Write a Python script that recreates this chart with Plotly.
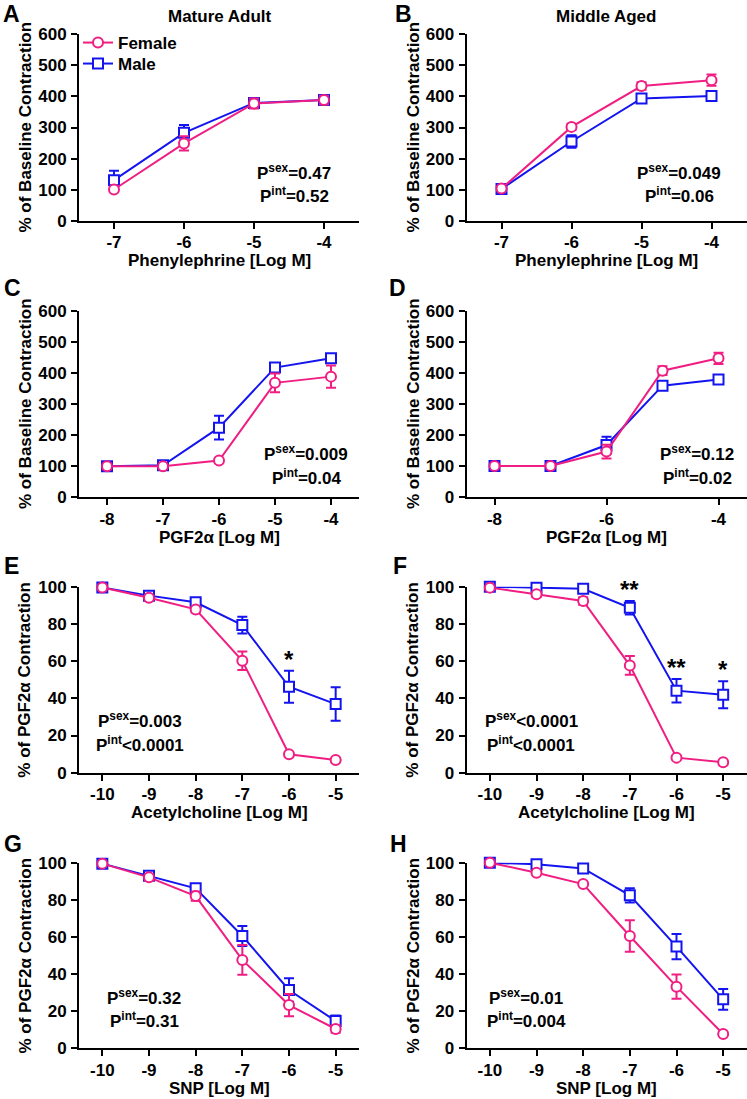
import plotly.graph_objects as go

# ---------------- data ----------------
A_dose = [-7, -6, -5, -4]
A_female = [101, 249, 377, 388]
A_female_err = [5, 23, 16, 14]
A_male = [131, 283, 379, 388]
A_male_err = [30, 25, 10, 12]

B_dose = [-7, -6, -5, -4]
B_female = [104, 302, 433, 452]
B_female_err = [4, 10, 12, 18]
B_male = [103, 255, 393, 401]
B_male_err = [4, 20, 10, 15]

C_dose = [-8, -7, -6, -5, -4]
C_female = [100, 100, 118, 368, 388]
C_female_err = [3, 3, 5, 30, 36]
C_male = [100, 103, 224, 417, 447]
C_male_err = [3, 3, 38, 8, 10]

D_dose = [-8, -7, -6, -5, -4]
D_female = [101, 101, 147, 407, 447]
D_female_err = [3, 3, 22, 14, 18]
D_male = [101, 101, 168, 359, 379]
D_male_err = [3, 3, 27, 8, 8]

E_dose = [-10, -9, -8, -7, -6, -5]
E_female = [99.6, 94.1, 87.8, 60.2, 9.9, 6.8]
E_female_err = [0.5, 1, 1.5, 5, 1, 1]
E_male = [99.6, 95.2, 91.6, 79.4, 46.2, 36.9]
E_male_err = [0.5, 1, 1.5, 4.5, 8.6, 9]

F_dose = [-10, -9, -8, -7, -6, -5]
F_female = [99.5, 95.9, 92.3, 57.7, 8.1, 5.6]
F_female_err = [0.5, 1.5, 2, 5, 1, 1]
F_male = [100, 99.5, 98.9, 88.7, 44.1, 41.9]
F_male_err = [0.3, 0.5, 1, 3.6, 6.3, 7.2]

G_dose = [-10, -9, -8, -7, -6, -5]
G_female = [99.5, 92.1, 82.0, 47.6, 23.3, 10.4]
G_female_err = [0.5, 1.5, 2.5, 8, 6, 2]
G_male = [99.5, 93.0, 86.2, 60.5, 31.4, 14.7]
G_male_err = [0.5, 1, 1.5, 5.4, 6.3, 3]

H_dose = [-10, -9, -8, -7, -6, -5]
H_female = [100, 94.6, 88.5, 60.5, 33.2, 7.7]
H_female_err = [0.3, 1, 1, 8.5, 6.5, 1]
H_male = [100, 99.1, 96.9, 82.4, 54.8, 26.4]
H_male_err = [0.3, 1, 1, 3.8, 6.8, 5.6]

panel_letters = ["A", "B", "C", "D", "E", "F", "G", "H"]
column_titles = ["Mature Adult", "Middle Aged"]
x_titles = ["Phenylephrine [Log M]", "Phenylephrine [Log M]",
            "PGF2α [Log M]", "PGF2α [Log M]",
            "Acetylcholine [Log M]", "Acetylcholine [Log M]",
            "SNP [Log M]", "SNP [Log M]"]
y_titles = ["% of Baseline Contraction"] * 4 + ["% of PGF2α Contraction"] * 4
p_sex = ["=0.47", "=0.049", "=0.009", "=0.12", "=0.003", "<0.0001", "=0.32", "=0.01"]
p_int = ["=0.52", "=0.06", "=0.04", "=0.02", "<0.0001", "<0.0001", "=0.31", "=0.004"]
x_tickvals = [[-7, -6, -5, -4], [-7, -6, -5, -4],
              [-8, -7, -6, -5, -4], [-8, -6, -4],
              [-10, -9, -8, -7, -6, -5], [-10, -9, -8, -7, -6, -5],
              [-10, -9, -8, -7, -6, -5], [-10, -9, -8, -7, -6, -5]]
# significance stars: (panel index, dose, label)
stars = [(4, -6, "*"), (5, -7, "**"), (5, -6, "**"), (5, -5, "*")]

panels = [
    (A_dose, A_female, A_female_err, A_male, A_male_err),
    (B_dose, B_female, B_female_err, B_male, B_male_err),
    (C_dose, C_female, C_female_err, C_male, C_male_err),
    (D_dose, D_female, D_female_err, D_male, D_male_err),
    (E_dose, E_female, E_female_err, E_male, E_male_err),
    (F_dose, F_female, F_female_err, F_male, F_male_err),
    (G_dose, G_female, G_female_err, G_male, G_male_err),
    (H_dose, H_female, H_female_err, H_male, H_male_err),
]

# ---------------- style / layout ----------------
W, H = 747, 1099
FEMALE = "#F01E82"
MALE = "#1414F0"
FONT = "Liberation Sans, Arial, sans-serif"
FS = 17


def px(x):
    return x / W


def py(y):
    return 1 - y / H


col_px = [(79, 359), (466.5, 746.5)]
row_px = [(34, 221), (310.7, 497.3), (586.7, 772.7), (862.7, 1048.3)]
x_ranges = [[-7.5, -3.5]] * 2 + [[-8.5, -3.5]] * 2 + [[-10.5, -4.5]] * 4
y_ranges = [[0, 600]] * 4 + [[0, 100]] * 4
y_dticks = [100] * 4 + [20] * 4
# P-text centers (px)
p_pos = [(294, 172, 195), (679, 172, 195), (306, 452.7, 476.7), (697, 453.3, 477.3),
         (140, 720, 744.3), (531, 720, 744.3), (144, 996.7, 1020), (526, 996.7, 1020)]
letter_pos = [(2, 10), (394, 10), (2, 288), (387, 288), (2, 566), (391, 566), (2, 844), (388, 844)]

fig = go.Figure()
layout = dict(width=W, height=H, margin=dict(l=0, r=0, t=0, b=0, pad=0, autoexpand=False),
              paper_bgcolor="white", plot_bgcolor="white",
              font=dict(family=FONT, size=FS, color="black"),
              showlegend=True)
annotations = []

for i, (dose, fem, fem_e, mal, mal_e) in enumerate(panels):
    r, c = divmod(i, 2)
    xa = "x" if i == 0 else f"x{i+1}"
    ya = "y" if i == 0 else f"y{i+1}"
    xkey = "xaxis" if i == 0 else f"xaxis{i+1}"
    ykey = "yaxis" if i == 0 else f"yaxis{i+1}"
    x0, x1 = col_px[c]
    y0, y1 = row_px[r]
    layout[xkey] = dict(domain=[px(x0), px(x1)], anchor=ya, range=x_ranges[i],
                        tickvals=x_tickvals[i], ticktext=[str(v) for v in x_tickvals[i]],
                        showline=True, linewidth=2, linecolor="black",
                        ticks="outside", ticklen=6, tickwidth=2, tickcolor="black",
                        showgrid=False, zeroline=False, ticklabelstandoff=-1,
                        automargin=False,
                        tickfont=dict(family=FONT, size=FS, weight="bold"))
    layout[ykey] = dict(domain=[py(y1), py(y0)], anchor=xa, range=y_ranges[i],
                        dtick=y_dticks[i], tick0=0,
                        showline=True, linewidth=2, linecolor="black",
                        ticks="outside", ticklen=6, tickwidth=2, tickcolor="black",
                        showgrid=False, zeroline=False, ticklabelstandoff=1,
                        automargin=False,
                        tickfont=dict(family=FONT, size=FS, weight="bold"))
    for name, vals, errs, col, sym, leg in [
        ("Male", mal, mal_e, MALE, "square", "legend2"),
        ("Female", fem, fem_e, FEMALE, "circle", "legend"),
    ]:
        fig.add_trace(go.Scatter(
            x=dose, y=vals, xaxis=xa, yaxis=ya, name=name,
            mode="lines+markers", legend=leg, showlegend=(i == 0),
            line=dict(color=col, width=2),
            marker=dict(symbol=sym, size=10, color="white",
                        line=dict(color=col, width=2)),
            error_y=dict(type="data", array=errs, visible=True, color=col,
                         thickness=2, width=5),
            cliponaxis=False,
        ))
    # axis titles
    annotations.append(dict(xref="paper", yref="paper", x=px((x0 + x1) / 2), y=py(y1 + 40),
                            text=x_titles[i], showarrow=False, xanchor="center", yanchor="middle",
                            font=dict(family=FONT, size=FS, weight="bold")))
    annotations.append(dict(xref="paper", yref="paper", x=px(25 if c == 0 else 413),
                            y=py((y0 + y1) / 2), text=y_titles[i], textangle=-90,
                            showarrow=False, xanchor="center", yanchor="middle",
                            font=dict(family=FONT, size=FS, weight="bold")))
    # P values
    pxc, l1, l2 = p_pos[i]
    annotations.append(dict(xref="paper", yref="paper", x=px(pxc), y=py(l1),
                            text="P<sup>sex</sup>" + p_sex[i], showarrow=False,
                            xanchor="center", yanchor="middle",
                            font=dict(family=FONT, size=FS, weight="bold")))
    annotations.append(dict(xref="paper", yref="paper", x=px(pxc), y=py(l2),
                            text="P<sup>int</sup>" + p_int[i], showarrow=False,
                            xanchor="center", yanchor="middle",
                            font=dict(family=FONT, size=FS, weight="bold")))
    # panel letter
    lx, ly = letter_pos[i]
    if r == 0:
        letter = dict(y=1, yanchor="top", borderpad=0)
    else:
        letter = dict(y=py(ly), yanchor="middle")
    annotations.append(dict(xref="paper", yref="paper", x=px(lx),
                            text=panel_letters[i], showarrow=False, xanchor="left",
                            font=dict(family=FONT, size=23, weight="bold"), **letter))

# stars above male error bars
for (pi, d, lab) in stars:
    dose, fem, fem_e, mal, mal_e = panels[pi]
    k = dose.index(d)
    xa = f"x{pi+1}"
    ya = f"y{pi+1}"
    annotations.append(dict(xref=xa, yref=ya, x=d, y=mal[k] + mal_e[k],
                            text=lab, showarrow=False, xanchor="center", yanchor="bottom",
                            yshift=-4,
                            font=dict(family=FONT, size=24, weight="bold")))

# column titles
annotations.append(dict(xref="paper", yref="paper", x=px(219.7), y=py(16.7), text=column_titles[0],
                        showarrow=False, xanchor="center", yanchor="middle",
                        font=dict(family=FONT, size=FS, weight="bold")))
annotations.append(dict(xref="paper", yref="paper", x=px(606), y=py(16.7), text=column_titles[1],
                        showarrow=False, xanchor="center", yanchor="middle",
                        font=dict(family=FONT, size=FS, weight="bold")))

layout["annotations"] = annotations
leg_common = dict(xanchor="left", yanchor="middle", bgcolor="rgba(0,0,0,0)", itemwidth=30,
                  font=dict(family=FONT, size=FS, weight="bold"))
layout["legend"] = dict(x=px(78), y=py(43), **leg_common)
layout["legend2"] = dict(x=px(78), y=py(64), **leg_common)
fig.update_layout(**layout)

fig.write_html(
    "out.html",
    config={"displayModeBar": False},
    post_script="document.body.style.margin='0';document.body.style.overflow='hidden';",
)
